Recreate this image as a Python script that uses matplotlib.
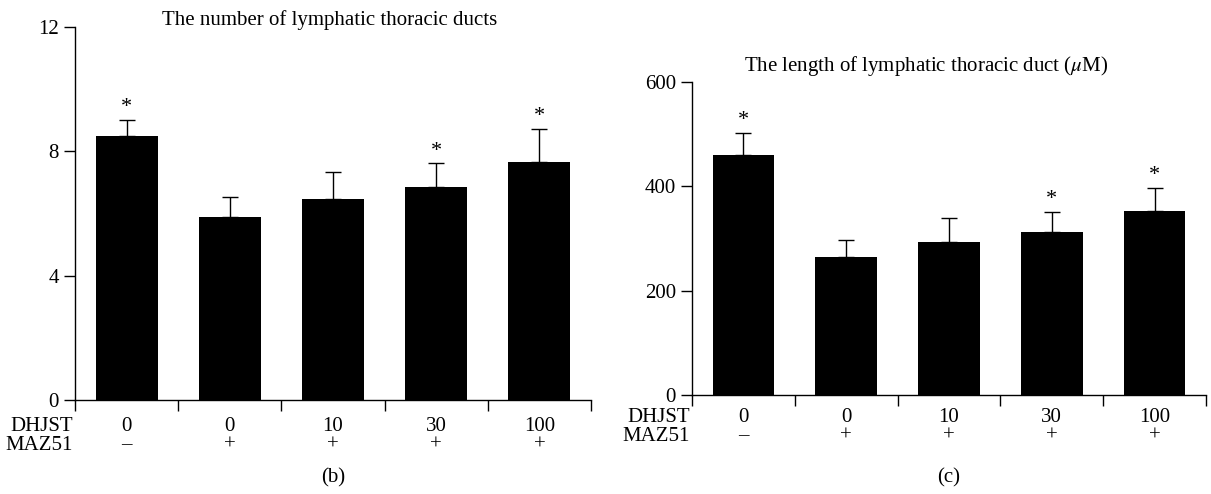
import matplotlib

matplotlib.use("Agg", force=True)
import matplotlib.pyplot as plt
import matplotlib.transforms as mtransforms
import numpy as np

plt.rcParams["font.family"] = ["Liberation Serif", "DejaVu Serif"]
plt.rcParams["mathtext.fontset"] = "stix"

dhjst_labels = ["0", "0", "10", "30", "100"]
maz51_labels = ["\u2013", "+", "+", "+", "+"]

duct_number = [8.48, 5.90, 6.48, 6.84, 7.65]
duct_number_err = [0.52, 0.62, 0.84, 0.77, 1.06]
duct_number_sig = [True, False, False, True, True]

duct_length = [460, 264, 293, 312, 353]
duct_length_err = [42, 33, 46, 39, 44]
duct_length_sig = [True, False, False, True, True]

FS = 15


def draw_panel(fig, rect, values, errors, sig, ylim, yticks, title, title_xy, tag, row_y):
    ax = fig.add_axes(rect)
    x = np.arange(len(values))
    ax.bar(x, values, width=0.6, color="black", zorder=2)
    ax.errorbar(x, values, yerr=[np.zeros(len(values)), errors], fmt="none",
                ecolor="black", elinewidth=1.0, capsize=6, capthick=1.0, zorder=3)
    for xi, v, e, s in zip(x, values, errors, sig):
        if s:
            ax.annotate("*", (xi, v + e), xytext=(0, 2), textcoords="offset points",
                        ha="center", va="bottom", fontsize=16)

    ax.set_xlim(-0.5, len(values) - 0.5)
    ax.set_ylim(*ylim)
    ax.set_yticks(yticks)
    ax.set_xticks(np.arange(len(values) + 1) - 0.5)
    ax.set_xticklabels([])
    for side in ("top", "right"):
        ax.spines[side].set_visible(False)
    for side in ("left", "bottom"):
        ax.spines[side].set_linewidth(1.0)
    ax.tick_params(axis="both", direction="out", length=8, width=1.0, labelsize=FS)

    trans = mtransforms.blended_transform_factory(ax.transData, fig.transFigure)
    y1, y2 = row_y
    ax.text(-0.52, y1, "DHJST", transform=trans, ha="right", va="center", fontsize=FS)
    ax.text(-0.52, y2, "MAZ51", transform=trans, ha="right", va="center", fontsize=FS)
    for xi, a, b in zip(x, dhjst_labels, maz51_labels):
        ax.text(xi, y1, a, transform=trans, ha="center", va="center", fontsize=FS)
        ax.text(xi, y2, b, transform=trans, ha="center", va="center", fontsize=FS)

    fig.text(title_xy[0], title_xy[1], title, ha="center", va="center", fontsize=FS)
    ax.text((len(values) - 1) / 2, 1 - 478 / 494, tag, transform=trans,
            ha="center", va="center", fontsize=FS)
    return ax


fig = plt.figure(figsize=(12.11, 4.94), dpi=100)

draw_panel(fig, [75 / 1211, 1 - 400 / 494, 516 / 1211, 373 / 494],
           duct_number, duct_number_err, duct_number_sig,
           (0, 12), [0, 4, 8, 12],
           "The number of lymphatic thoracic ducts", (330 / 1211, 1 - 20 / 494),
           "(b)", (1 - 426 / 494, 1 - 445 / 494))

draw_panel(fig, [692 / 1211, 1 - 395 / 494, 514 / 1211, 313 / 494],
           duct_length, duct_length_err, duct_length_sig,
           (0, 600), [0, 200, 400, 600],
           r"The length of lymphatic thoracic duct ($\mu$M)", (926 / 1211, 1 - 66 / 494),
           "(c)", (1 - 417 / 494, 1 - 436 / 494))

fig.savefig("out.png", dpi=100, facecolor="white")
